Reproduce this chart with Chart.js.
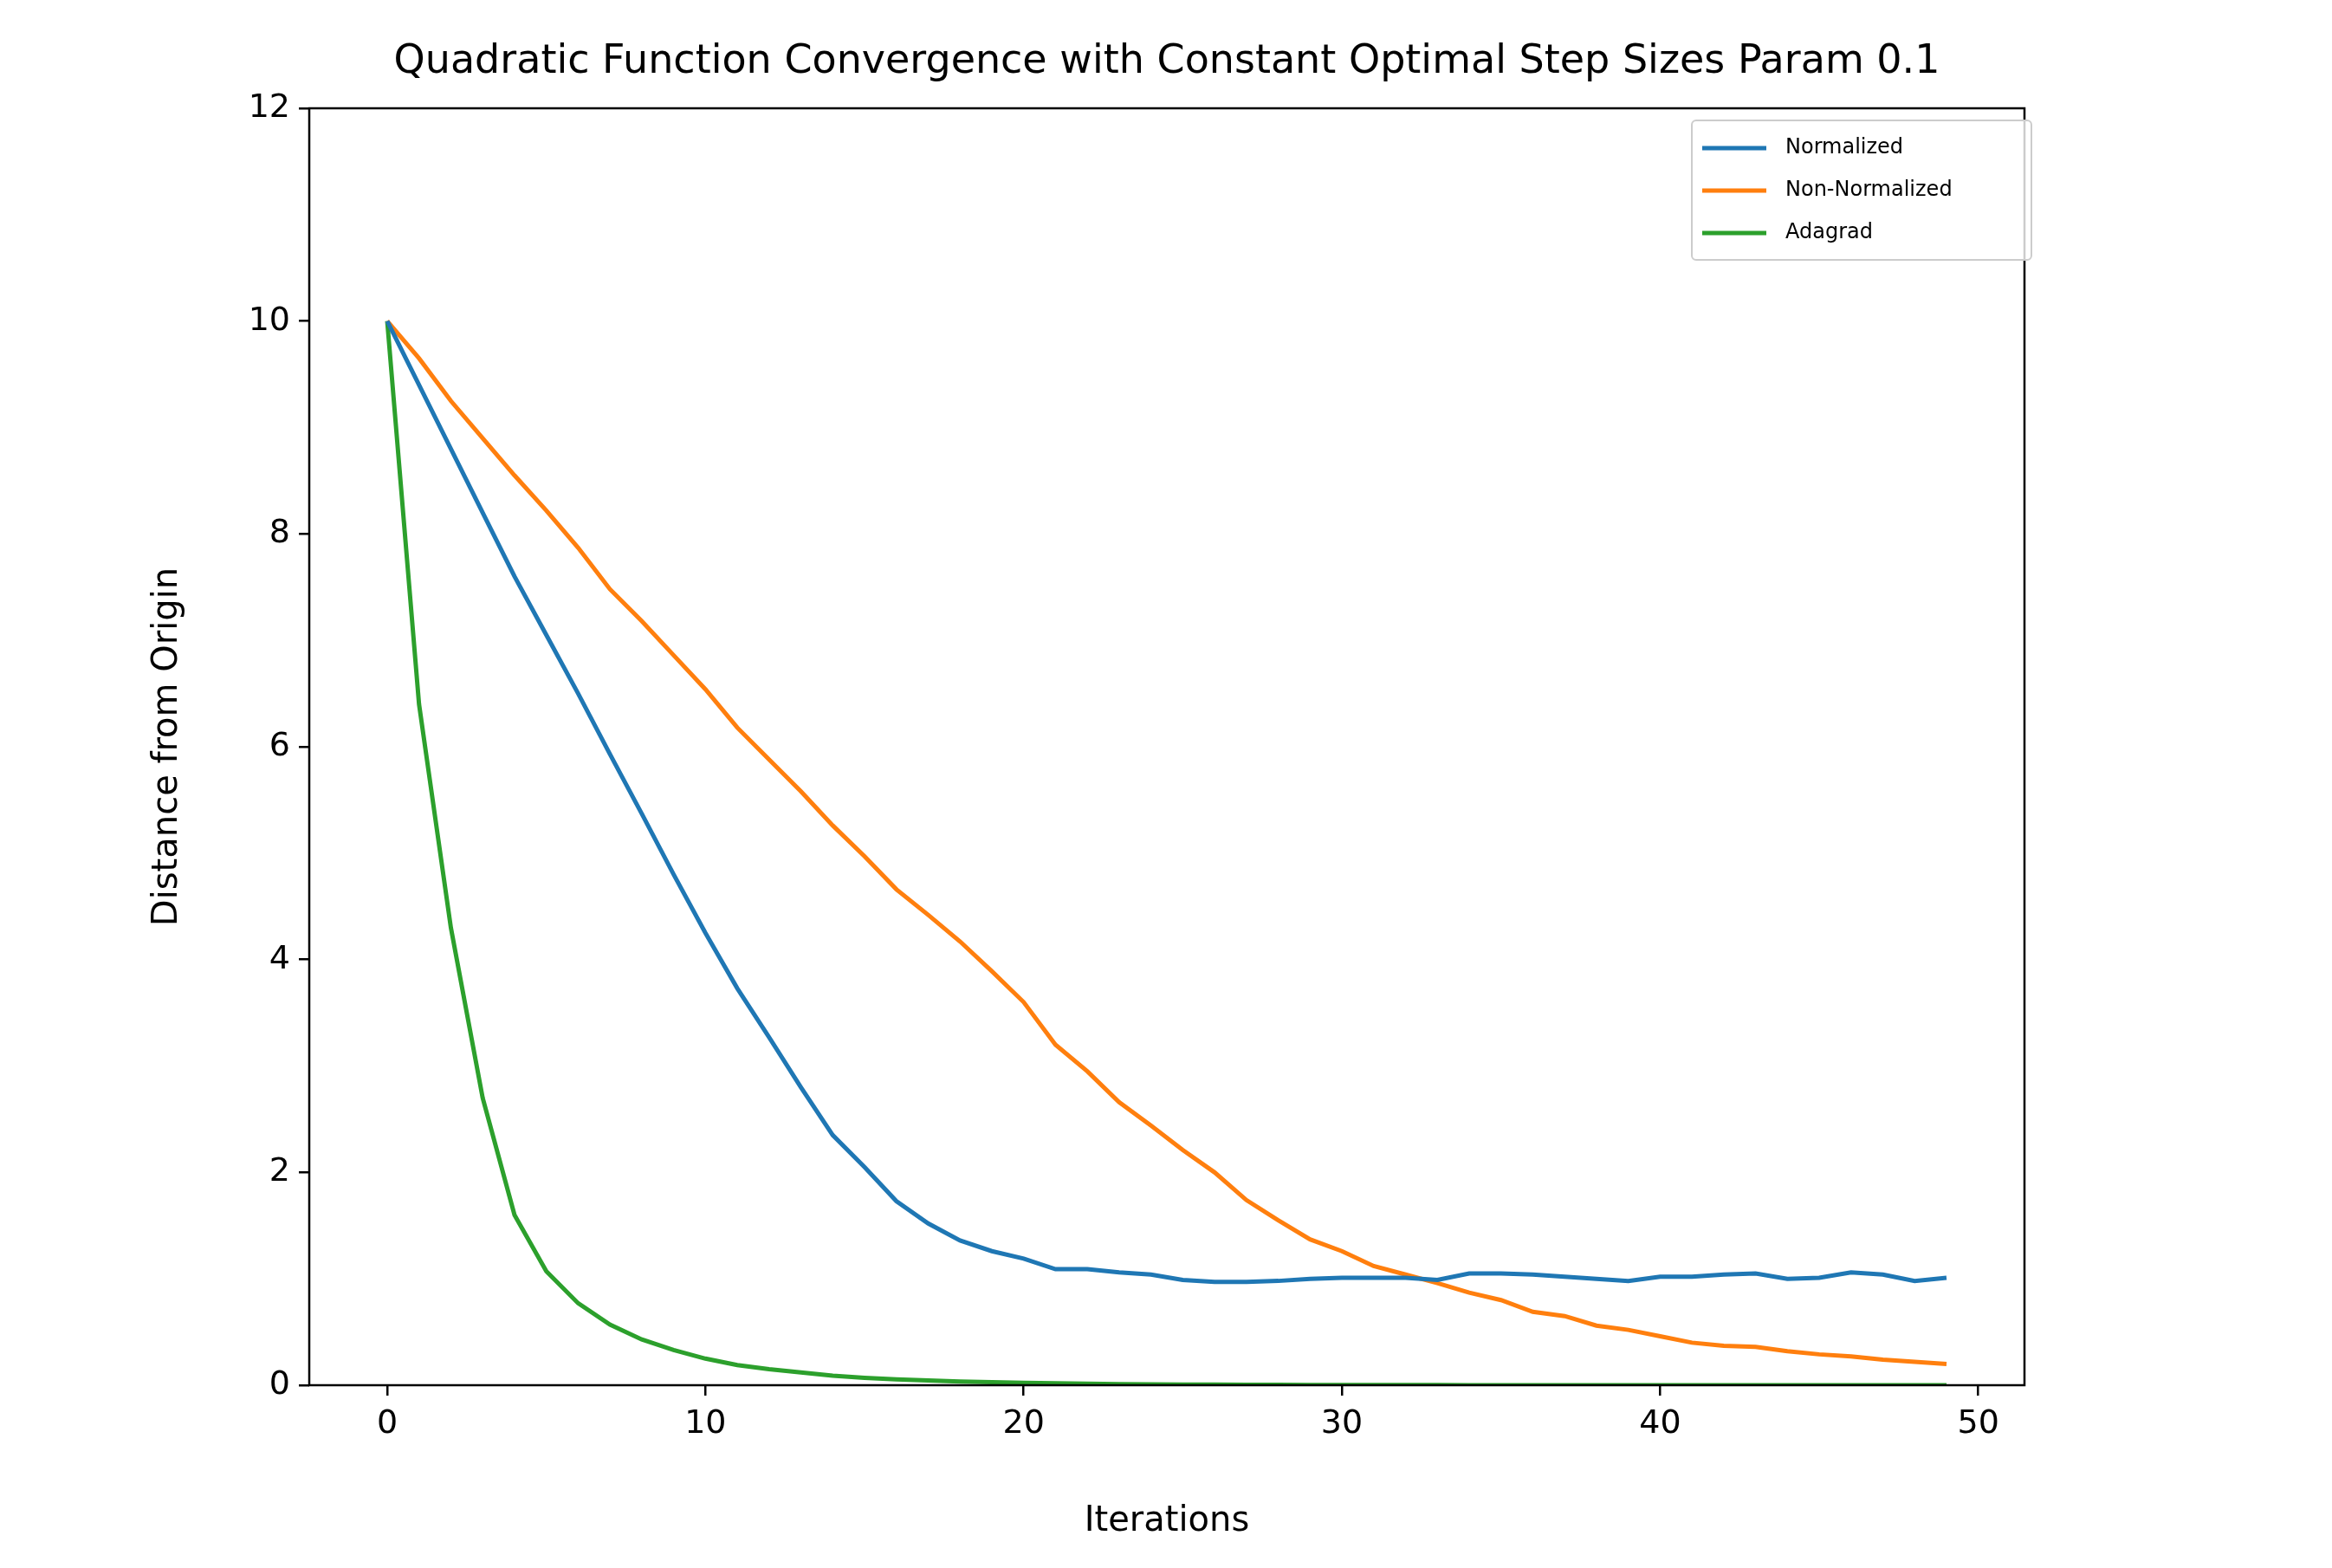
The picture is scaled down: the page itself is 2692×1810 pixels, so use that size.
<!DOCTYPE html>
<html><head><meta charset="utf-8">
<script src="https://cdn.jsdelivr.net/npm/chart.js@4"></script>
<style>html,body{margin:0;padding:0;background:#fff}canvas{display:block}</style>
</head><body>
<canvas id="c" width="2692" height="1810" style="width:2692px;height:1810px"></canvas>
<script>
// values
const iterations = Array.from({length: 50}, (_, i) => i);
const normalized = [10, 9.4, 8.8, 8.2, 7.6, 7.05, 6.5, 5.93, 5.37, 4.8, 4.25, 3.73, 3.27, 2.8, 2.35, 2.05, 1.73, 1.52, 1.36, 1.26,
  1.19, 1.09, 1.09, 1.06, 1.04, 0.99, 0.97, 0.97, 0.98, 1.0, 1.01, 1.01, 1.01, 0.99, 1.05, 1.05, 1.04, 1.02, 1.0, 0.98,
  1.02, 1.02, 1.04, 1.05, 1.0, 1.01, 1.06, 1.04, 0.98, 1.01];
const nonNormalized = [10, 9.65, 9.25, 8.9, 8.55, 8.22, 7.87, 7.48, 7.18, 6.86, 6.54, 6.18, 5.88, 5.58, 5.26, 4.97, 4.66, 4.42, 4.17, 3.89,
  3.6, 3.2, 2.95, 2.66, 2.44, 2.21, 2.0, 1.74, 1.55, 1.37, 1.26, 1.12, 1.04, 0.96, 0.87, 0.8, 0.69, 0.65, 0.56, 0.52,
  0.46, 0.4, 0.37, 0.36, 0.32, 0.29, 0.27, 0.24, 0.22, 0.2];
const adagrad = [10, 6.4, 4.3, 2.7, 1.6, 1.07, 0.77, 0.57, 0.43, 0.33, 0.25, 0.19, 0.15, 0.12, 0.09, 0.07, 0.055, 0.045, 0.035, 0.028,
  0.022, 0.018, 0.014, 0.011, 0.009, 0.007, 0.006, 0.005, 0.004, 0.003, 0.003, 0.002, 0.002, 0.002, 0.001, 0.001, 0.001, 0.001, 0.001, 0.001,
  0, 0, 0, 0, 0, 0, 0, 0, 0, 0];
const xTicks = [0, 10, 20, 30, 40, 50];
const yTicks = [0, 2, 4, 6, 8, 10, 12];

const FONT = 'DejaVu Sans';
const pts = arr => arr.map((v, i) => ({x: iterations[i], y: v}));
const ds = (label, data, color) => ({label, data: pts(data), borderColor: color, backgroundColor: color,
  borderWidth: 5, pointRadius: 0, tension: 0, fill: false});

const frame = {
  id: 'frame',
  afterDraw(chart) {
    const {ctx, chartArea: a} = chart;
    ctx.save();
    ctx.strokeStyle = '#000'; ctx.lineWidth = 2.5;
    ctx.strokeRect(a.left, a.top, a.right - a.left, a.bottom - a.top);
    ctx.fillStyle = '#000'; ctx.textAlign = 'center'; ctx.textBaseline = 'middle';
    // title
    ctx.font = `46px "${FONT}"`;
    ctx.fillText('Quadratic Function Convergence with Constant Optimal Step Sizes Param 0.1', (a.left + a.right) / 2, 72);
    // axis titles
    ctx.font = `40px "${FONT}"`;
    ctx.fillText('Iterations', (a.left + a.right) / 2, 1757);
    ctx.save();
    ctx.translate(194, (a.top + a.bottom) / 2); ctx.rotate(-Math.PI / 2);
    ctx.fillText('Distance from Origin', 0, 0);
    ctx.restore();
    // legend
    const lx = 1953, ly = 139, lw = 392, lh = 161;
    ctx.fillStyle = 'rgba(255,255,255,0.8)';
    ctx.strokeStyle = '#ccc'; ctx.lineWidth = 2;
    ctx.beginPath(); ctx.roundRect(lx, ly, lw, lh, 5); ctx.fill(); ctx.stroke();
    ctx.font = `24px "${FONT}"`; ctx.textAlign = 'left';
    chart.data.datasets.forEach((d, i) => {
      const y = ly + 32 + i * 49;
      ctx.strokeStyle = d.borderColor; ctx.lineWidth = 5;
      ctx.beginPath(); ctx.moveTo(lx + 12, y); ctx.lineTo(lx + 86, y); ctx.stroke();
      ctx.fillStyle = '#000';
      ctx.fillText(d.label, lx + 108, y);
    });
    ctx.restore();
  }
};

new Chart(document.getElementById('c'), {
  type: 'line',
  data: {datasets: [
    ds('Normalized', normalized, '#1f77b4'),
    ds('Non-Normalized', nonNormalized, '#ff7f0e'),
    ds('Adagrad', adagrad, '#2ca02c'),
  ]},
  options: {
    responsive: false, animation: false, devicePixelRatio: 1,
    layout: {padding: {top: 125, right: 355, left: 0, bottom: 0}},
    plugins: {legend: {display: false}, title: {display: false}, tooltip: {enabled: false}},
    scales: {
      x: {
        type: 'linear', min: -2.45, max: 51.45,
        afterBuildTicks: s => { s.ticks = xTicks.map(v => ({value: v})); },
        afterFit: s => { s.height = 211; },
        grid: {drawOnChartArea: false, tickLength: 12, color: '#000', lineWidth: 2.5},
        border: {display: false},
        ticks: {color: '#000', font: {family: FONT, size: 38}, padding: 10, maxRotation: 0}
      },
      y: {
        min: 0, max: 12,
        afterBuildTicks: s => { s.ticks = yTicks.map(v => ({value: v})); },
        afterFit: s => { s.width = 357; },
        grid: {drawOnChartArea: false, tickLength: 12, color: '#000', lineWidth: 2.5},
        border: {display: false},
        ticks: {color: '#000', font: {family: FONT, size: 38}, padding: 10}
      }
    }
  },
  plugins: [frame]
});
</script>
</body></html>
